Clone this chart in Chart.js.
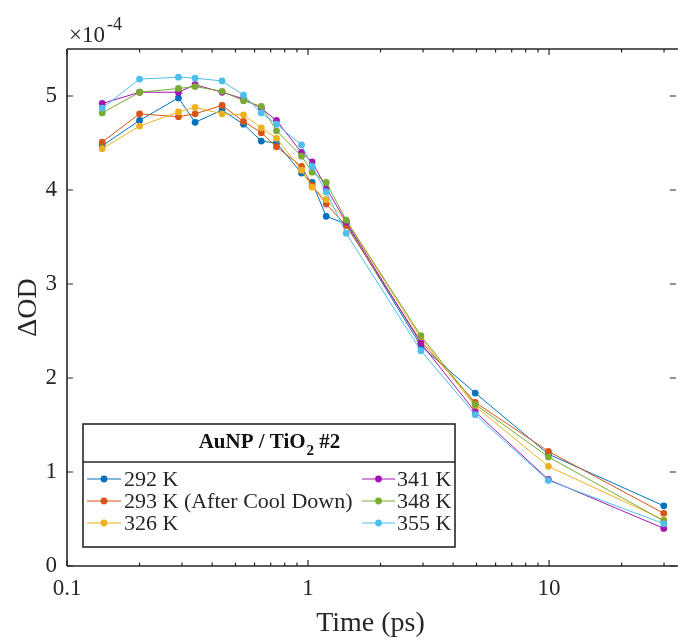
<!DOCTYPE html>
<html><head><meta charset="utf-8">
<script src="https://cdn.jsdelivr.net/npm/chart.js@4.4.1/dist/chart.umd.min.js"></script>
<style>html,body{margin:0;padding:0;background:#fff;overflow:hidden}#wrap{width:678px;height:643px;position:relative}</style>
</head><body><div id="wrap"><canvas id="c" width="678" height="643"></canvas></div>
<script>
// ---- data (ΔOD in units of 1e-4) ----
const times = [0.14, 0.2, 0.29, 0.34, 0.44, 0.54, 0.64, 0.74, 0.94, 1.04, 1.19, 1.44, 2.94, 4.94, 9.94, 29.94];
const seriesNames = ['292 K', '293 K (After Cool Down)', '326 K', '341 K', '348 K', '355 K'];
const k292 = [4.47, 4.74, 4.98, 4.72, 4.85, 4.70, 4.52, 4.50, 4.18, 4.08, 3.72, 3.64, 2.34, 1.84, 1.19, 0.64];
const k293 = [4.51, 4.81, 4.78, 4.81, 4.90, 4.73, 4.61, 4.46, 4.25, 4.05, 3.85, 3.62, 2.39, 1.74, 1.22, 0.56];
const k326 = [4.44, 4.68, 4.83, 4.88, 4.81, 4.80, 4.66, 4.55, 4.21, 4.03, 3.90, 3.67, 2.43, 1.70, 1.06, 0.49];
const k341 = [4.92, 5.04, 5.04, 5.12, 5.04, 4.97, 4.87, 4.74, 4.40, 4.30, 4.02, 3.66, 2.37, 1.64, 0.92, 0.40];
const k348 = [4.82, 5.04, 5.08, 5.10, 5.05, 4.95, 4.89, 4.63, 4.36, 4.19, 4.08, 3.68, 2.45, 1.72, 1.16, 0.48];
const k355 = [4.87, 5.18, 5.20, 5.19, 5.16, 5.01, 4.82, 4.70, 4.48, 4.25, 3.98, 3.54, 2.29, 1.61, 0.91, 0.45];
const yTickValues = [0, 1, 2, 3, 4, 5];
const xTickValues = [0.1, 1, 10];
const SCALE = 1e-4;

const colors = ['#0072BD', '#D95319', '#EDB120', '#A516B0', '#77AC30', '#4DBEEE'];
const allSeries = [k292, k293, k326, k341, k348, k355];
const FONT = "'Liberation Serif', 'Times New Roman', serif";
const AX = '#262626';

const datasets = allSeries.map((vals, i) => ({
  label: seriesNames[i],
  data: times.map((t, j) => ({ x: t, y: vals[j] * SCALE })),
  showLine: true,
  borderColor: colors[i],
  backgroundColor: colors[i],
  borderWidth: 1,
  pointRadius: 3.4,
  pointBorderWidth: 0,
  pointBackgroundColor: colors[i],
  order: allSeries.length - i
}));

const framePlugin = {
  id: 'frame',
  afterDraw(chart) {
    const ctx = chart.ctx;
    const { left, top, right, bottom } = chart.chartArea;
    const xs = chart.scales.x, ys = chart.scales.y;
    ctx.save();
    ctx.strokeStyle = AX;
    ctx.lineWidth = 1.6;
    ctx.beginPath();
    ctx.moveTo(left, top); ctx.lineTo(right + 4, top);
    ctx.moveTo(left, top); ctx.lineTo(left, bottom);
    ctx.moveTo(left, bottom); ctx.lineTo(right + 4, bottom);
    ctx.stroke();
    ctx.lineWidth = 1.2;
    ctx.beginPath();
    yTickValues.forEach(v => {
      const y = ys.getPixelForValue(v * SCALE);
      ctx.moveTo(left, y); ctx.lineTo(left + 6, y);
      ctx.moveTo(right + 2, y); ctx.lineTo(right - 4, y);
    });
    xTickValues.forEach(v => {
      const x = xs.getPixelForValue(v);
      ctx.moveTo(x, bottom); ctx.lineTo(x, bottom - 6);
      ctx.moveTo(x, top); ctx.lineTo(x, top + 6);
    });
    [0.1, 1, 10].forEach(d => {
      for (let m = 2; m <= 9; m++) {
        const v = d * m;
        if (v > xs.max) continue;
        const x = xs.getPixelForValue(v);
        ctx.moveTo(x, bottom); ctx.lineTo(x, bottom - 3.5);
        ctx.moveTo(x, top); ctx.lineTo(x, top + 3.5);
      }
    });
    ctx.stroke();

    // exponent label
    ctx.fillStyle = AX;
    ctx.textBaseline = 'alphabetic';
    ctx.textAlign = 'left';
    ctx.font = '23px ' + FONT;
    ctx.fillText('\u00d710', 69, 42);
    const w = ctx.measureText('\u00d710').width;
    ctx.font = '18px ' + FONT;
    ctx.fillText('-4', 69 + w + 2, 30);

    // legend
    const L = 83, T = 424, R = 455, B = 547, D = 462;
    ctx.fillStyle = '#fff';
    ctx.fillRect(L, T, R - L, B - T);
    ctx.strokeStyle = AX;
    ctx.lineWidth = 1.6;
    ctx.strokeRect(L, T, R - L, B - T);
    ctx.beginPath(); ctx.moveTo(L, D); ctx.lineTo(R, D); ctx.stroke();
    ctx.fillStyle = '#111';
    const t1 = 'AuNP / TiO', t2 = '2', t3 = ' #2';
    const big = 'bold 21px ' + FONT, small = 'bold 15px ' + FONT;
    ctx.font = big; const w1 = ctx.measureText(t1).width;
    ctx.font = small; const w2 = ctx.measureText(t2).width;
    ctx.font = big; const w3 = ctx.measureText(t3).width;
    let tx = (L + R) / 2 - (w1 + w2 + w3) / 2;
    const ty = 448;
    ctx.font = big; ctx.fillText(t1, tx, ty); tx += w1 + 1;
    ctx.font = small; ctx.fillText(t2, tx, ty + 7); tx += w2;
    ctx.font = big; ctx.fillText(t3, tx, ty);
    const rows = [479, 501, 523];
    const cols = [{ x0: 87, x1: 121, tx: 124 }, { x0: 362, x1: 395, tx: 397 }];
    ctx.font = '22px ' + FONT;
    ctx.textBaseline = 'middle';
    seriesNames.forEach((name, i) => {
      const c = cols[Math.floor(i / 3)], y = rows[i % 3];
      ctx.strokeStyle = colors[i];
      ctx.lineWidth = 1;
      ctx.beginPath(); ctx.moveTo(c.x0, y); ctx.lineTo(c.x1, y); ctx.stroke();
      ctx.fillStyle = colors[i];
      ctx.beginPath(); ctx.arc((c.x0 + c.x1) / 2, y, 3.4, 0, Math.PI * 2); ctx.fill();
      ctx.fillStyle = AX;
      ctx.fillText(name, c.tx, y + 1);
    });
    ctx.restore();
  }
};

new Chart(document.getElementById('c'), {
  type: 'scatter',
  data: { datasets },
  plugins: [framePlugin],
  options: {
    responsive: false,
    animation: false,
    devicePixelRatio: 1,
    layout: { padding: { top: 49, right: 0, left: 0, bottom: 0 } },
    plugins: { legend: { display: false }, tooltip: { enabled: false } },
    scales: {
      x: {
        type: 'logarithmic', min: 0.1, max: 33,
        afterBuildTicks: s => { s.ticks = xTickValues.map(v => ({ value: v })); },
        afterFit: s => { s.height = 77; },
        grid: { display: false, drawTicks: false },
        border: { display: false },
        ticks: { autoSkip: false, maxRotation: 0, padding: 9, color: AX,
                 font: { family: FONT, size: 23 },
                 callback: v => String(v) },
        title: { display: true, text: 'Time (ps)', color: AX,
                 font: { family: FONT, size: 28 }, padding: { top: 0, bottom: 3 } }
      },
      y: {
        min: 0, max: 5.5e-4,
        afterBuildTicks: s => { s.ticks = yTickValues.map(v => ({ value: v * SCALE })); },
        afterFit: s => { s.width = 67; },
        grid: { display: false, drawTicks: false },
        border: { display: false },
        ticks: { padding: 10, color: AX, font: { family: FONT, size: 23 },
                 callback: v => String(Math.round(v / SCALE)) },
        title: { display: true, text: '\u0394OD', color: AX,
                 font: { family: FONT, size: 28 }, padding: { top: 12, bottom: 0 } }
      }
    }
  }
});
</script></body></html>
